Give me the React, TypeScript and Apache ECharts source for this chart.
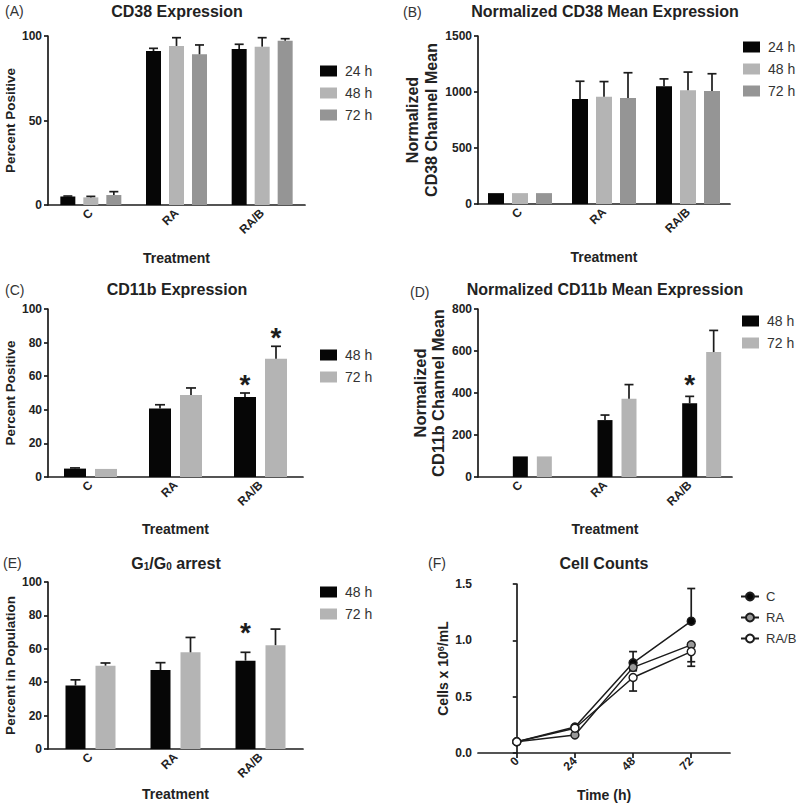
import { useEffect, useRef } from "react";
import * as echarts from "echarts";

// ---------------- DATA ----------------
const categories = ["C", "RA", "RA/B"];

// (A) CD38 expression, percent positive
const cd38Pct24 = [5.0, 91.1, 92.3];
const cd38Pct24Err = [0.3, 1.6, 2.8];
const cd38Pct48 = [4.5, 94.1, 93.7];
const cd38Pct48Err = [0.6, 4.9, 5.3];
const cd38Pct72 = [5.9, 89.2, 97.2];
const cd38Pct72Err = [2.0, 5.5, 1.2];

// (B) normalized CD38 channel mean
const cd38Mean24 = [97, 937, 1051];
const cd38Mean24Err = [0, 159, 66];
const cd38Mean48 = [97, 958, 1015];
const cd38Mean48Err = [0, 135, 163];
const cd38Mean72 = [97, 946, 1009];
const cd38Mean72Err = [0, 226, 154];

// (C) CD11b expression, percent positive
const cd11bPct48 = [5.0, 40.7, 47.6];
const cd11bPct48Err = [0.4, 2.3, 2.4];
const cd11bPct48Star = [false, false, true];
const cd11bPct72 = [4.8, 48.8, 70.4];
const cd11bPct72Err = [0, 4.2, 7.4];
const cd11bPct72Star = [false, false, true];

// (D) normalized CD11b channel mean
const cd11bMean48 = [98, 271, 351];
const cd11bMean48Err = [0, 24, 33];
const cd11bMean48Star = [false, false, true];
const cd11bMean72 = [98, 373, 595];
const cd11bMean72Err = [0, 67, 103];

// (E) G1/G0 arrest, percent in population
const g1g0Pct48 = [38.0, 47.3, 52.9];
const g1g0Pct48Err = [3.4, 4.4, 5.0];
const g1g0Pct48Star = [false, false, true];
const g1g0Pct72 = [49.9, 57.9, 62.2];
const g1g0Pct72Err = [1.6, 8.9, 9.6];

// (F) cell counts (x 10^6 / mL)
const timePoints = [0, 24, 48, 72];
const countC = [0.1, 0.23, 0.8, 1.17];
const countCErr = [0, 0.01, 0.1, 0.29];
const countRA = [0.1, 0.16, 0.76, 0.96];
const countRAErr = [0, 0, 0.03, 0.15];
const countRAB = [0.1, 0.22, 0.67, 0.9];
const countRABErr = [0, 0, 0.12, 0.13];

// ---------------- STYLE ----------------
const FONT = "'Liberation Sans', Arial, Helvetica, sans-serif";
const INK = "#1c1c1c";
const TXT = "#222222";
const BLACK = "#060606";
const LIGHT = "#b4b4b4";
const MID = "#959595";

type BarSpec = {
  key: string;
  values: number[];
  errors: number[];
  stars?: boolean[];
  color: string;
};
type BarPanel = {
  grid: { left: number; top: number; width: number; height: number };
  yMax: number;
  yInterval: number;
  yName: string;
  yNameGap: number;
  yNameSize: number;
  yNameLineHeight: number;
  xNameGap: number;
  barWidth: number;
  gapPx: number;
  slots: number;
  firstSlot: number;
  cap: number;
  starLift: number;
  legend: { left: number; top: number };
  series: BarSpec[];
};

const barPanels: BarPanel[] = [
  {
    grid: { left: 48, top: 36, width: 257, height: 169 },
    yMax: 100,
    yInterval: 50,
    yName: "Percent Positive",
    yNameGap: 28,
    yNameSize: 13.5,
    yNameLineHeight: 16,
    xNameGap: 46,
    barWidth: 15,
    gapPx: 8,
    slots: 3,
    firstSlot: 0,
    cap: 9,
    starLift: 0,
    legend: { left: 320, top: 64 },
    series: [
      { key: "A|24 h", values: cd38Pct24, errors: cd38Pct24Err, color: BLACK },
      { key: "A|48 h", values: cd38Pct48, errors: cd38Pct48Err, color: LIGHT },
      { key: "A|72 h", values: cd38Pct72, errors: cd38Pct72Err, color: MID },
    ],
  },
  {
    grid: { left: 478, top: 36, width: 252, height: 168 },
    yMax: 1500,
    yInterval: 500,
    yName: "Normalized\nCD38 Channel Mean",
    yNameGap: 37,
    yNameSize: 16,
    yNameLineHeight: 19,
    xNameGap: 46,
    barWidth: 16,
    gapPx: 8,
    slots: 3,
    firstSlot: 0,
    cap: 9,
    starLift: 0,
    legend: { left: 743, top: 40 },
    series: [
      { key: "B|24 h", values: cd38Mean24, errors: cd38Mean24Err, color: BLACK },
      { key: "B|48 h", values: cd38Mean48, errors: cd38Mean48Err, color: LIGHT },
      { key: "B|72 h", values: cd38Mean72, errors: cd38Mean72Err, color: MID },
    ],
  },
  {
    grid: { left: 48, top: 309, width: 255, height: 168 },
    yMax: 100,
    yInterval: 20,
    yName: "Percent Positive",
    yNameGap: 28,
    yNameSize: 13.5,
    yNameLineHeight: 16,
    xNameGap: 45,
    barWidth: 22,
    gapPx: 9,
    slots: 2,
    firstSlot: 0,
    cap: 10,
    starLift: 16,
    legend: { left: 320, top: 348 },
    series: [
      { key: "C|48 h", values: cd11bPct48, errors: cd11bPct48Err, stars: cd11bPct48Star, color: BLACK },
      { key: "C|72 h", values: cd11bPct72, errors: cd11bPct72Err, stars: cd11bPct72Star, color: LIGHT },
    ],
  },
  {
    grid: { left: 478, top: 309, width: 254, height: 168 },
    yMax: 800,
    yInterval: 200,
    yName: "Normalized\nCD11b Channel Mean",
    yNameGap: 31,
    yNameSize: 16.5,
    yNameLineHeight: 18,
    xNameGap: 45,
    barWidth: 15,
    gapPx: 9,
    slots: 3,
    firstSlot: 1,
    cap: 9,
    starLift: 19,
    legend: { left: 742, top: 314 },
    series: [
      { key: "D|48 h", values: cd11bMean48, errors: cd11bMean48Err, stars: cd11bMean48Star, color: BLACK },
      { key: "D|72 h", values: cd11bMean72, errors: cd11bMean72Err, color: LIGHT },
    ],
  },
  {
    grid: { left: 48, top: 582, width: 255, height: 167 },
    yMax: 100,
    yInterval: 20,
    yName: "Percent in Population",
    yNameGap: 28,
    yNameSize: 13.5,
    yNameLineHeight: 16,
    xNameGap: 38,
    barWidth: 20,
    gapPx: 10,
    slots: 2,
    firstSlot: 0,
    cap: 10,
    starLift: 27,
    legend: { left: 320, top: 585 },
    series: [
      { key: "E|48 h", values: g1g0Pct48, errors: g1g0Pct48Err, stars: g1g0Pct48Star, color: BLACK },
      { key: "E|72 h", values: g1g0Pct72, errors: g1g0Pct72Err, color: LIGHT },
    ],
  },
];

const lineGrid = { left: 478, top: 584, width: 252, height: 169 };

const axisLineStyle = { color: INK, width: 1.7 };
const tickLabelStyle = {
  color: TXT,
  fontFamily: FONT,
  fontWeight: "bold" as const,
  fontSize: 12,
};
const nameStyle = {
  color: TXT,
  fontFamily: FONT,
  fontWeight: "bold" as const,
  fontSize: 14,
};

const panelTitles = [
  { text: "CD38 Expression", x: 177, y: 11 },
  { text: "Normalized CD38 Mean Expression", x: 605, y: 11 },
  { text: "CD11b Expression", x: 177, y: 289 },
  { text: "Normalized CD11b Mean Expression", x: 605, y: 289 },
  { text: "G{s|1}/G{s|0} arrest", x: 176, y: 563 },
  { text: "Cell Counts", x: 604, y: 563 },
];
const panelLetters = [
  { text: "(A)", x: 5, y: 11 },
  { text: "(B)", x: 403, y: 12 },
  { text: "(C)", x: 5, y: 290 },
  { text: "(D)", x: 410, y: 292 },
  { text: "(E)", x: 3, y: 563 },
  { text: "(F)", x: 428, y: 563 },
];

function errorSeries(
  axisIndex: number,
  data: number[][],
  offset: number,
  cap: number,
  stars: boolean[] | undefined,
  starLift: number
) {
  return {
    type: "custom",
    xAxisIndex: axisIndex,
    yAxisIndex: axisIndex,
    z: 4,
    silent: true,
    encode: { x: 0, y: 1 },
    data,
    renderItem: (params: any, api: any) => {
      const x0 = api.value(0);
      const v = api.value(1);
      const e = api.value(2);
      const dir = api.value(3);
      const base = api.coord([x0, v]);
      const end = api.coord([x0, v + dir * e]);
      const x = base[0] + offset;
      const children: any[] = [];
      if (e > 0) {
        children.push({
          type: "line",
          shape: { x1: x, y1: base[1], x2: x, y2: end[1] },
          style: { stroke: INK, lineWidth: 1.7 },
        });
        children.push({
          type: "line",
          shape: { x1: x - cap / 2, y1: end[1], x2: x + cap / 2, y2: end[1] },
          style: { stroke: INK, lineWidth: 1.7 },
        });
      }
      if (stars && stars[params.dataIndex]) {
        children.push({
          type: "text",
          x,
          y: end[1] - starLift + 7,
          style: {
            text: "*",
            fontFamily: FONT,
            fontWeight: "bold",
            fontSize: 28,
            fill: INK,
            align: "center",
            verticalAlign: "middle",
          },
        });
      }
      return { type: "group", children };
    },
  };
}

function buildOption() {
  const grids: any[] = [];
  const xAxes: any[] = [];
  const yAxes: any[] = [];
  const series: any[] = [];
  const legends: any[] = [];

  barPanels.forEach((p, i) => {
    grids.push({ ...p.grid });
    xAxes.push({
      type: "category",
      gridIndex: i,
      data: categories,
      boundaryGap: true,
      axisLine: { lineStyle: axisLineStyle },
      axisTick: { alignWithLabel: true, length: 5, lineStyle: axisLineStyle },
      axisLabel: { ...tickLabelStyle, rotate: 45, margin: 6, interval: 0 },
      splitLine: { show: false },
      name: "Treatment",
      nameLocation: "middle",
      nameGap: p.xNameGap,
      nameTextStyle: nameStyle,
    });
    yAxes.push({
      type: "value",
      gridIndex: i,
      min: 0,
      max: p.yMax,
      interval: p.yInterval,
      axisLine: { show: true, lineStyle: axisLineStyle },
      axisTick: { show: true, length: 4, lineStyle: axisLineStyle },
      axisLabel: { ...tickLabelStyle, margin: 6, formatter: (v: number) => String(v) },
      splitLine: { show: false },
      name: p.yName,
      nameLocation: "middle",
      nameGap: p.yNameGap,
      nameTextStyle: { ...nameStyle, fontSize: p.yNameSize, lineHeight: p.yNameLineHeight },
    });
    const gapPct = `${((p.gapPx / p.barWidth) * 100).toFixed(1)}%`;
    for (let s = 0; s < p.firstSlot; s++) {
      series.push({
        type: "bar",
        name: `slot${i}-${s}`,
        xAxisIndex: i,
        yAxisIndex: i,
        data: categories.map(() => "-"),
        barWidth: p.barWidth,
        barGap: gapPct,
        silent: true,
      });
    }
    p.series.forEach((s, k) => {
      const slot = p.firstSlot + k;
      const offset = (slot - (p.slots - 1) / 2) * (p.barWidth + p.gapPx);
      series.push({
        type: "bar",
        name: s.key,
        xAxisIndex: i,
        yAxisIndex: i,
        data: s.values,
        barWidth: p.barWidth,
        barGap: gapPct,
        itemStyle: { color: s.color },
        z: 2,
      });
      series.push(
        errorSeries(
          i,
          s.values.map((v, c) => [c, v, s.errors[c], 1]),
          offset,
          p.cap,
          s.stars,
          p.starLift
        )
      );
    });
    legends.push({
      data: p.series.map((s) => s.key),
      orient: "vertical",
      left: p.legend.left,
      top: p.legend.top,
      padding: 0,
      itemWidth: 17,
      itemHeight: 11,
      itemGap: 8,
      icon: "rect",
      selectedMode: false,
      formatter: (n: string) => n.split("|")[1],
      textStyle: { fontFamily: FONT, fontSize: 14, color: "#333", padding: [0, 0, 0, 3] },
    });
  });

  // (F) line chart
  const fi = barPanels.length;
  grids.push({ ...lineGrid });
  xAxes.push({
    type: "value",
    gridIndex: fi,
    min: -16,
    max: 88,
    axisLine: { lineStyle: axisLineStyle },
    axisTick: { length: 5, lineStyle: axisLineStyle, customValues: timePoints },
    axisLabel: { ...tickLabelStyle, rotate: 45, margin: 6, customValues: timePoints },
    splitLine: { show: false },
    name: "Time (h)",
    nameLocation: "middle",
    nameGap: 35,
    nameTextStyle: nameStyle,
  });
  yAxes.push({
    type: "value",
    gridIndex: fi,
    min: 0,
    max: 1.5,
    interval: 0.5,
    axisLine: { show: true, lineStyle: axisLineStyle },
    axisTick: { show: true, length: 4, lineStyle: axisLineStyle },
    axisLabel: { ...tickLabelStyle, margin: 6, formatter: (v: number) => v.toFixed(1) },
    splitLine: { show: false },
    name: "Cells x 10{sup|6}/mL",
    nameLocation: "middle",
    nameGap: 28,
    nameTextStyle: {
      ...nameStyle,
      rich: {
        sup: { ...nameStyle, fontSize: 9, verticalAlign: "top" },
      },
    },
  });
  const lines = [
    { key: "F|C", values: countC, errors: countCErr, dir: 1, fill: BLACK },
    { key: "F|RA", values: countRA, errors: countRAErr, dir: -1, fill: "#999999" },
    { key: "F|RA/B", values: countRAB, errors: countRABErr, dir: -1, fill: "#ffffff" },
  ];
  lines.forEach((l) => {
    series.push(
      errorSeries(
        fi,
        timePoints.map((t, k) => [t, l.values[k], l.errors[k], l.dir]),
        0,
        8,
        undefined,
        0
      )
    );
  });
  lines.forEach((l, k) => {
    series.push({
      type: "line",
      name: l.key,
      xAxisIndex: fi,
      yAxisIndex: fi,
      data: timePoints.map((t, j) => [t, l.values[j]]),
      symbol: "circle",
      symbolSize: 8,
      itemStyle: { color: l.fill, borderColor: INK, borderWidth: 1.4 },
      lineStyle: { color: INK, width: 1.5 },
      z: 5 + k,
    });
  });
  legends.push({
    data: lines.map((l) => l.key),
    orient: "vertical",
    left: 740,
    top: 590,
    padding: 0,
    itemWidth: 18,
    itemHeight: 10,
    itemGap: 8,
    selectedMode: false,
    formatter: (n: string) => n.split("|")[1],
    textStyle: { fontFamily: FONT, fontSize: 13, color: "#333", padding: [0, 0, 0, 2] },
  });

  const graphics: any[] = [];
  panelTitles.forEach((t) => {
    graphics.push({
      type: "text",
      x: t.x,
      y: t.y,
      style: {
        text: t.text,
        fontFamily: FONT,
        fontWeight: "bold",
        fontSize: 16,
        fill: TXT,
        align: "center",
        verticalAlign: "middle",
        rich: {
          s: { fontFamily: FONT, fontWeight: "bold", fontSize: 10, verticalAlign: "bottom", fill: TXT },
        },
      },
    });
  });
  panelLetters.forEach((t) => {
    graphics.push({
      type: "text",
      x: t.x,
      y: t.y,
      style: {
        text: t.text,
        fontFamily: FONT,
        fontSize: 14,
        fill: "#333",
        align: "left",
        verticalAlign: "middle",
      },
    });
  });

  return {
    animation: false,
    backgroundColor: "#ffffff",
    grid: grids,
    xAxis: xAxes,
    yAxis: yAxes,
    legend: legends,
    series,
    graphic: graphics,
  };
}

export default function App() {
  const ref = useRef<HTMLDivElement>(null);
  useEffect(() => {
    if (!ref.current) return;
    const chart = echarts.init(ref.current, null, { renderer: "svg" });
    chart.setOption(buildOption() as any);
    return () => chart.dispose();
  }, []);
  return (
    <div
      ref={ref}
      style={{ position: "absolute", left: 0, top: 0, width: 800, height: 806, background: "#fff" }}
    />
  );
}
